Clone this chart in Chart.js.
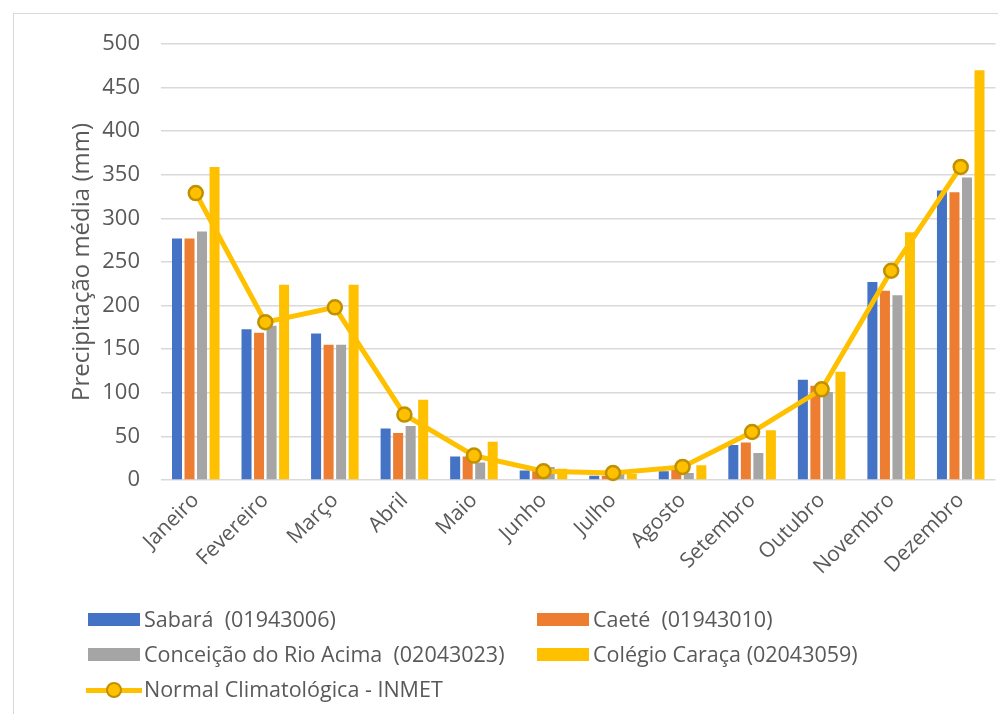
<!DOCTYPE html>
<html><head><meta charset="utf-8">
<script src="https://cdn.jsdelivr.net/npm/chart.js@4/dist/chart.umd.min.js"></script>
<style>
html,body{margin:0;padding:0;background:#fff;overflow:hidden;}
#wrap{position:relative;width:998px;height:714px;overflow:hidden;}
#frame{position:absolute;left:13px;top:13px;width:1100px;height:1100px;border:1px solid #d9d9d9;pointer-events:none;}
canvas{position:absolute;left:0;top:0;}
.lg{position:absolute;font-family:"Open Sans",Lato,sans-serif;font-size:21.5px;color:#595959;white-space:pre;line-height:24px;}
.sw{position:absolute;}
</style></head>
<body>
<div id="wrap">
<div id="frame"></div>
<canvas id="c" width="998" height="714"></canvas>
</div>
<script>
const months = ["Janeiro","Fevereiro","Março","Abril","Maio","Junho","Julho","Agosto","Setembro","Outubro","Novembro","Dezembro"];
const sabara    = [277,173,168,59,27,11,5,10,40,115,227,332];
const caete     = [277,169,155,54,27,11,5,13,43,108,217,330];
const conceicao = [285,177,155,62,20,15,7,8,31,101,212,347];
const caraca    = [359,224,224,92,44,13,7,17,57,124,284,470];
const inmet     = [329,181,198,75,28,10,8,15,55,104,240,359];
const yTicks = [0,50,100,150,200,250,300,350,400,450,500];

const seriesNames = ["Sabará  (01943006)","Caeté  (01943010)","Conceição do Rio Acima  (02043023)","Colégio Caraça (02043059)","Normal Climatológica - INMET"];
const colors = ["#4472C4","#ED7D31","#A5A5A5","#FFC000"];
const FONT = "'Open Sans', Lato, sans-serif";
const grey = "#595959";

const barDs = (label, data, color) => ({type:"bar", label, data, backgroundColor: color, order: 2,
  categoryPercentage: 0.72, barPercentage: 0.8});

new Chart(document.getElementById("c"), {
  data: {
    labels: months,
    datasets: [
      {type:"line", label: seriesNames[4], data: inmet, borderColor:"#FFC000", borderWidth:5,
       pointRadius:7, pointBorderWidth:2.5, pointBackgroundColor:"#FFC000", pointBorderColor:"#BF9000",
       tension:0, order:0, clip:false},
      barDs(seriesNames[0], sabara, colors[0]),
      barDs(seriesNames[1], caete, colors[1]),
      barDs(seriesNames[2], conceicao, colors[2]),
      barDs(seriesNames[3], caraca, colors[3])
    ]
  },
  options: {
    responsive:false, animation:false,
    layout:{autoPadding:false, padding:{left:68, right:2.5, top:44, bottom:124}},
    plugins:{legend:{display:false}, tooltip:{enabled:false}},
    scales:{
      x:{
        grid:{display:false, drawTicks:false}, border:{display:false},
        ticks:{color:grey, font:{family:FONT, size:21}, minRotation:45, maxRotation:45, padding:8},
        afterFit: s => { s.height = 110; s.paddingLeft = 0; s.paddingRight = 0; }
      },
      y:{
        min:0, max:500,
        afterBuildTicks: s => { s.ticks = yTicks.map(v => ({value:v})); },
        grid:{color:"#d9d9d9", lineWidth:1.5, drawTicks:false}, border:{display:false},
        ticks:{color:grey, font:{family:FONT, size:22}, padding:21},
        title:{display:true, text:"Precipitação média (mm)", color:grey, font:{family:FONT, size:24}, padding:{top:0,bottom:0}},
        afterFit: s => { s.width = 93; s.paddingTop = 0; s.paddingBottom = 0; }
      }
    }
  }
});

// HTML legend (two columns as in the reference)
const wrap = document.getElementById("wrap");
const items = [
  {name:seriesNames[0], color:colors[0], x:88,  y:620},
  {name:seriesNames[1], color:colors[1], x:537, y:620},
  {name:seriesNames[2], color:colors[2], x:88,  y:655},
  {name:seriesNames[3], color:colors[3], x:537, y:655},
  {name:seriesNames[4], color:null,      x:88,  y:690}
];
items.forEach(it => {
  if (it.color) {
    const sw = document.createElement("div"); sw.className = "sw";
    sw.style.left = it.x + "px"; sw.style.top = (it.y - 7) + "px"; sw.style.width = "52px"; sw.style.height = "13px";
    sw.style.background = it.color; wrap.appendChild(sw);
  } else {
    const ln = document.createElement("div"); ln.className = "sw";
    ln.style.left = (it.x - 2) + "px"; ln.style.top = (it.y - 2) + "px"; ln.style.width = "56px"; ln.style.height = "5px";
    ln.style.background = "#FFC000"; wrap.appendChild(ln);
    const dot = document.createElement("div"); dot.className = "sw";
    dot.style.left = (it.x + 18) + "px"; dot.style.top = (it.y - 8) + "px"; dot.style.width = "12px"; dot.style.height = "12px";
    dot.style.borderRadius = "50%"; dot.style.background = "#FFC000"; dot.style.border = "2.5px solid #BF9000";
    wrap.appendChild(dot);
  }
  const t = document.createElement("div"); t.className = "lg";
  t.textContent = it.name; t.style.left = (it.x + 56) + "px"; t.style.top = (it.y - 13) + "px";
  wrap.appendChild(t);
});
</script>
</body></html>
